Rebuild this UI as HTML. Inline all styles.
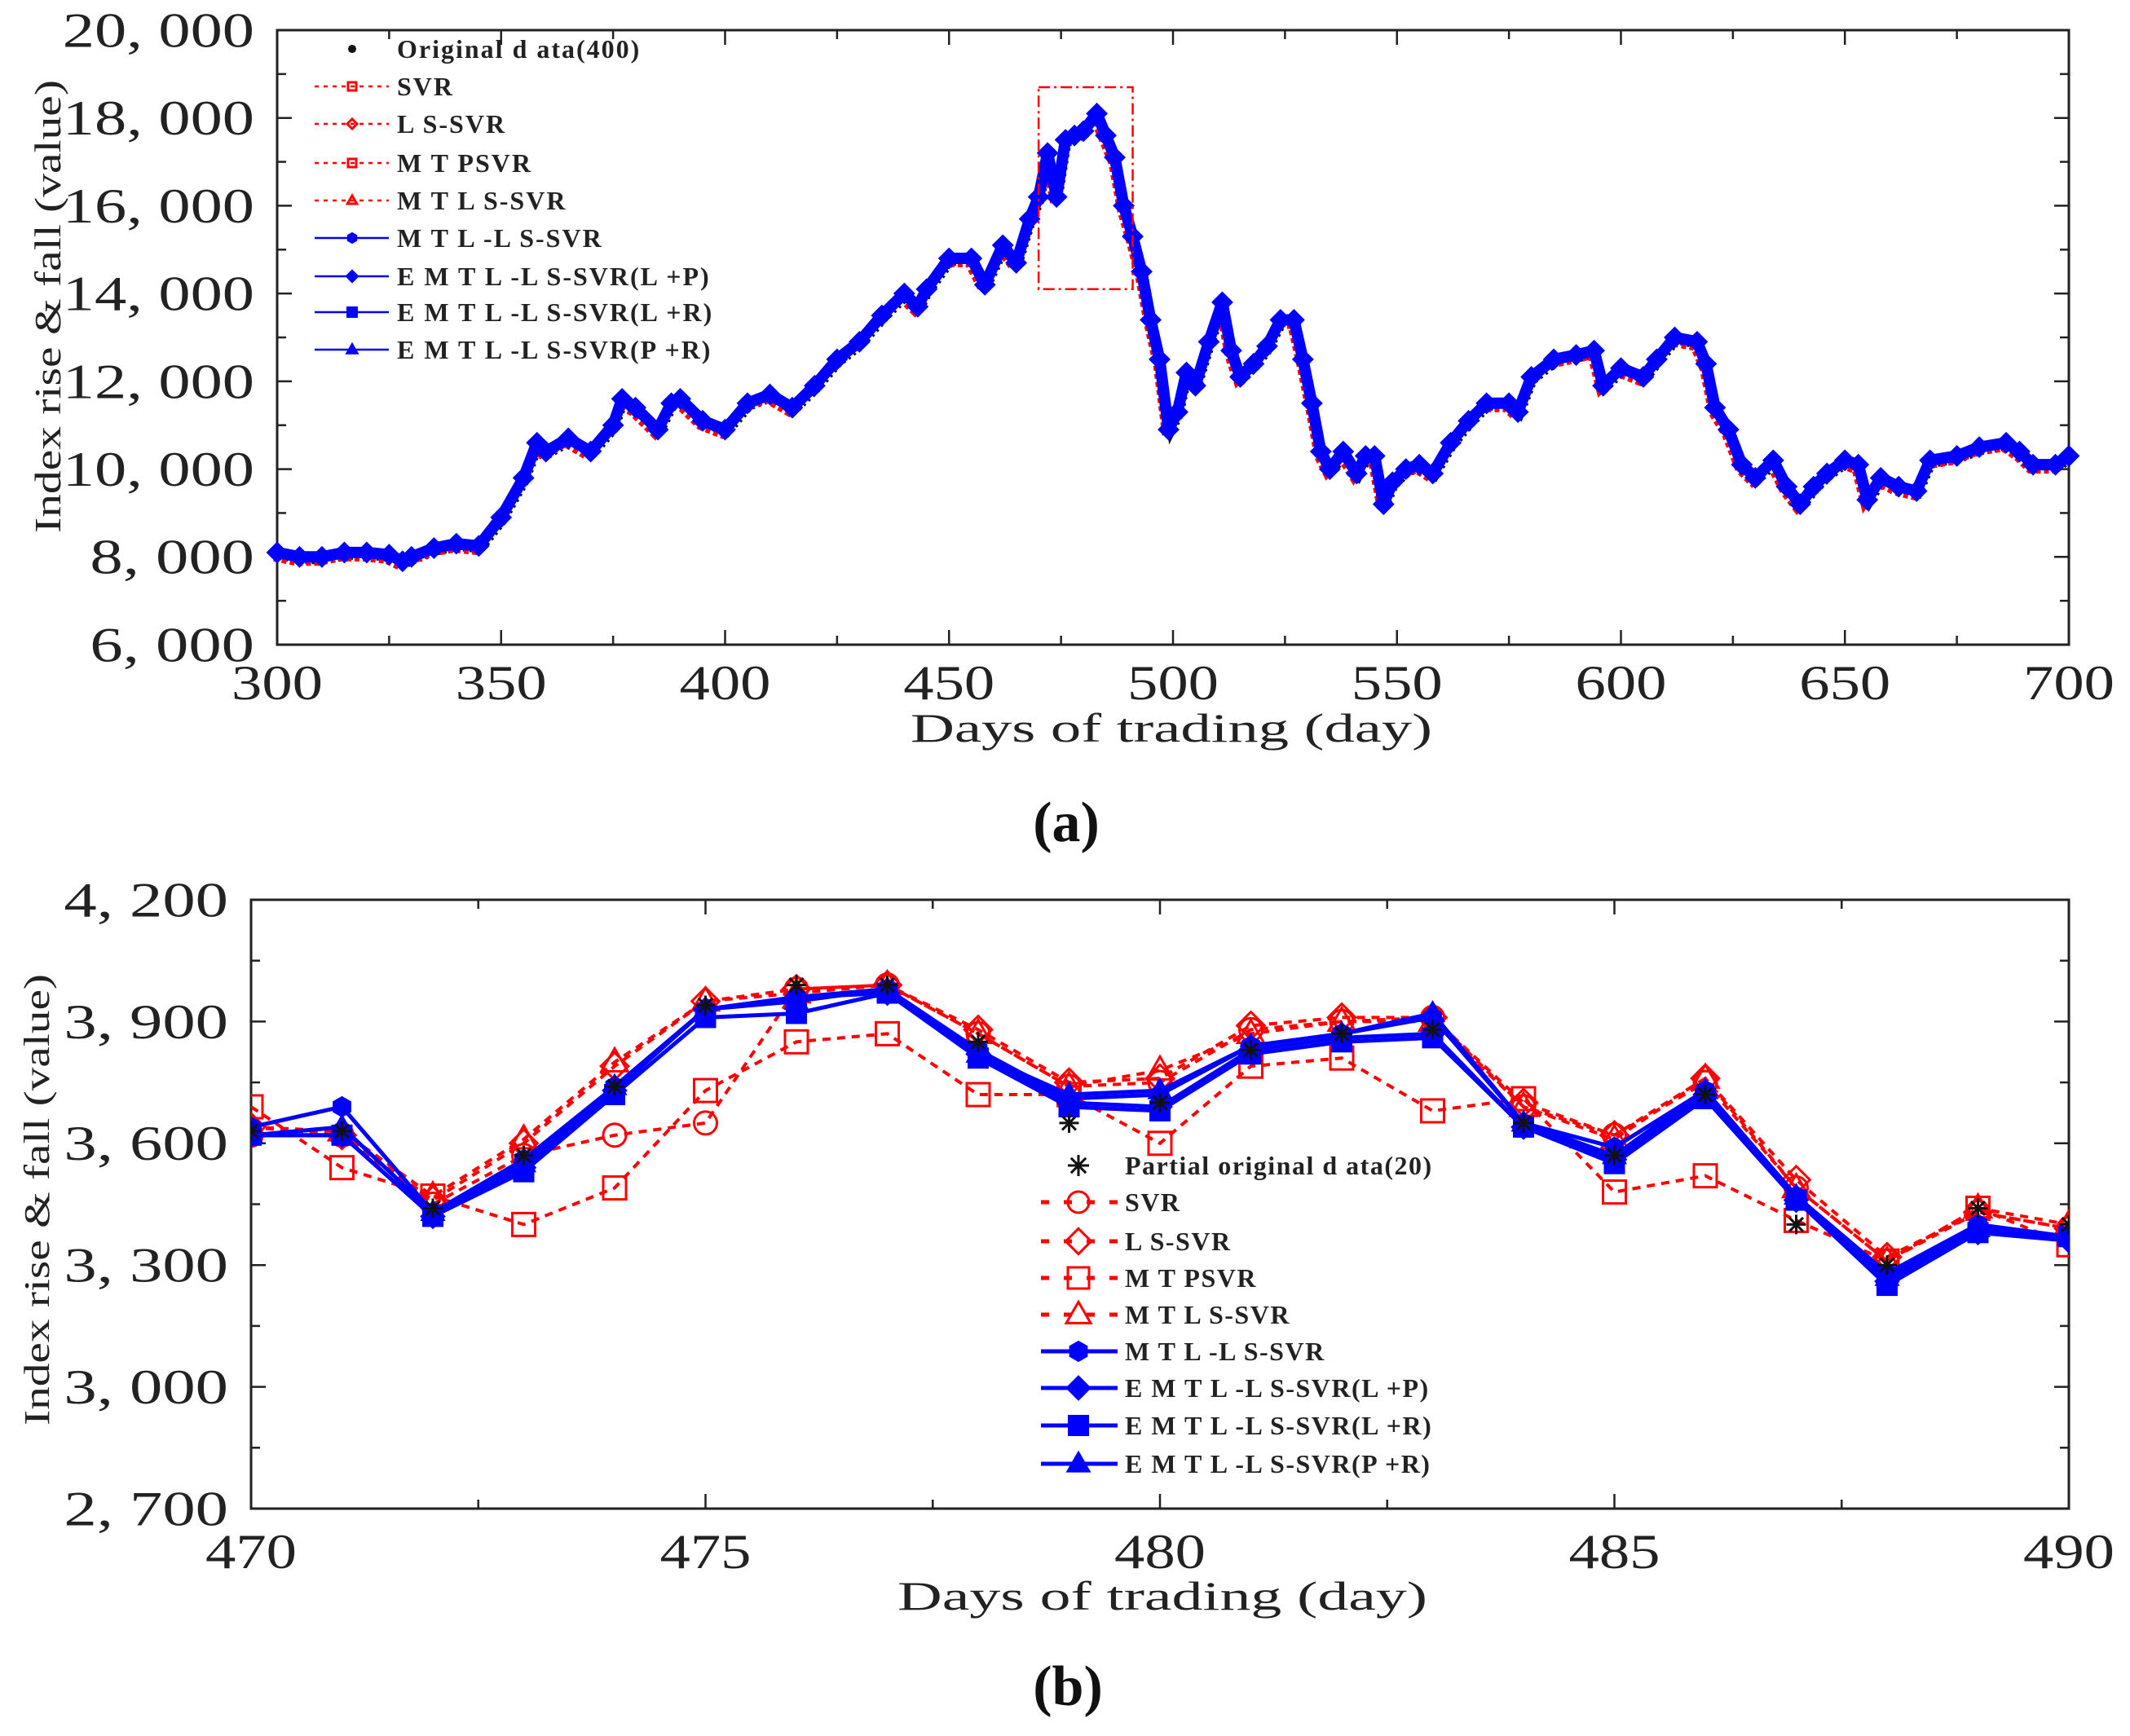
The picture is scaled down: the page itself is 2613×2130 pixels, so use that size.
<!DOCTYPE html>
<html><head><meta charset="utf-8"><style>
html,body{margin:0;padding:0;background:#fff;}
svg{display:block;}
text{font-family:"Liberation Serif",serif;}
</style></head><body>
<svg id="chart" xmlns="http://www.w3.org/2000/svg" width="2613" height="2130" viewBox="0 0 2613 2130"></svg>
<script>
// ---------- Panel (a) data ----------
const daysA = [300,305,310,315,320,325,328,330,335,340,345,350,355,358,360,365,370,375,377,380,385,388,390,395,400,405,410,415,420,425,430,435,440,443,445,450,455,458,462,465,468,470,472,474,476,478,480,483,485,487,489,491,493,495,497,499,501,503,505,508,511,513,515,518,521,524,527,529,531,533,535,538,541,543,545,547,549,552,555,558,562,566,570,575,577,580,585,590,594,596,600,605,608,612,617,619,621,624,627,630,634,637,640,643,646,650,653,655,658,662,666,669,675,680,686,689,692,697,700];
const valuesA = [8100,8000,8000,8100,8100,8050,7900,8000,8200,8300,8250,8900,9800,10600,10400,10700,10400,11000,11600,11400,10900,11500,11600,11100,10900,11500,11700,11400,11900,12500,12900,13500,14000,13700,14100,14800,14800,14200,15100,14700,15700,16200,17200,16200,17500,17600,17700,18100,17600,17100,16000,15300,14500,13400,12500,10900,11300,12200,11900,12900,13800,12700,12100,12400,12800,13400,13400,12500,11500,10400,10000,10400,9900,10300,10300,9200,9700,10000,10100,9900,10600,11100,11500,11500,11300,12100,12500,12600,12700,11900,12300,12100,12500,13000,12900,12400,11400,10900,10100,9800,10200,9600,9200,9600,9900,10200,10100,9300,9800,9600,9500,10200,10300,10500,10600,10400,10100,10100,10300];
const xTicksA = [300,350,400,450,500,550,600,650,700];
const yTicksA = [6000,8000,10000,12000,14000,16000,18000,20000];
const yTickLabelsA = ["6, 000","8, 000","10, 000","12, 000","14, 000","16, 000","18, 000","20, 000"];
const zoomBoxDays = [470,491];
const zoomBoxVals = [14100,18700];
const legendA = ["Original d ata(400)","SVR","L S-SVR","M T PSVR","M T L S-SVR","M T L -L S-SVR","E M T L -L S-SVR(L +P)","E M T L -L S-SVR(L +R)","E M T L -L S-SVR(P +R)"];

// ---------- Panel (b) data ----------
const daysB = [470,471,472,473,474,475,476,477,478,479,480,481,482,483,484,485,486,487,488,489,490];
const original = [3630,3630,3440,3570,3740,3940,3990,3990,3850,3650,3700,3830,3870,3880,3650,3570,3720,3400,3300,3440,3400];
const svr = [3620,3620,3450,3570,3620,3650,3980,3990,3870,3740,3750,3880,3900,3910,3690,3620,3750,3490,3310,3430,3390];
const lssvr = [3640,3620,3460,3600,3790,3950,3980,3990,3880,3750,3760,3890,3910,3910,3700,3620,3760,3510,3320,3430,3390];
const mtpsvr = [3690,3540,3470,3400,3490,3730,3850,3870,3720,3720,3600,3790,3810,3680,3710,3480,3520,3410,3310,3440,3350];
const mtlssvr = [3640,3630,3470,3610,3800,3950,3970,3990,3870,3740,3780,3870,3900,3900,3690,3610,3760,3490,3310,3440,3400];
const mtllssvr = [3640,3690,3430,3560,3740,3930,3960,3980,3830,3710,3720,3840,3870,3910,3650,3590,3730,3470,3280,3400,3370];
const emtlLP = [3620,3620,3420,3540,3730,3930,3960,3970,3820,3700,3690,3830,3860,3870,3640,3560,3720,3460,3260,3380,3360];
const emtlLR = [3620,3620,3420,3530,3720,3910,3920,3970,3810,3690,3680,3820,3850,3860,3640,3550,3710,3460,3250,3380,3370];
const emtlPR = [3620,3640,3430,3550,3740,3930,3950,3980,3820,3720,3730,3840,3870,3920,3650,3570,3730,3470,3270,3390,3370];
const xTicksB = [470,475,480,485,490];
const yTicksB = [2700,3000,3300,3600,3900,4200];
const yTickLabelsB = ["2, 700","3, 000","3, 300","3, 600","3, 900","4, 200"];
const legendB = ["Partial original d ata(20)","SVR","L S-SVR","M T PSVR","M T L S-SVR","M T L -L S-SVR","E M T L -L S-SVR(L +P)","E M T L -L S-SVR(L +R)","E M T L -L S-SVR(P +R)"];

const NS = "http://www.w3.org/2000/svg";
const svg = document.getElementById('chart');
function mk(tag, attrs, parent){
  const e = document.createElementNS(NS, tag);
  for (const k in attrs) e.setAttribute(k, attrs[k]);
  (parent||svg).appendChild(e);
  return e;
}
function txt(s, attrs, parent){ const t = mk('text', attrs, parent); t.textContent = s; return t; }

const A = {l:340, r:2538, t:37, b:791, x0:300, x1:700, y0:6000, y1:20000};
const B = {l:308, r:2538, t:1104, b:1851, x0:470, x1:490, y0:2700, y1:4200};
function sx(P, v){ return P.l + (v - P.x0) / (P.x1 - P.x0) * (P.r - P.l); }
function sy(P, v){ return P.b - (v - P.y0) / (P.y1 - P.y0) * (P.b - P.t); }

function marker(g, type, x, y, s, color, filled){
  const f = filled ? color : 'none';
  const common = {stroke: color, 'stroke-width': filled ? 2 : 3, fill: f};
  let e;
  if (type === 'circle') e = mk('circle', Object.assign({cx:x, cy:y, r:s}, common), g);
  else if (type === 'diamond') e = mk('polygon', Object.assign({points:`${x},${y-s*1.2} ${x+s*1.2},${y} ${x},${y+s*1.2} ${x-s*1.2},${y}`}, common), g);
  else if (type === 'square') e = mk('rect', Object.assign({x:x-s, y:y-s, width:2*s, height:2*s}, common), g);
  else if (type === 'triangle') e = mk('polygon', Object.assign({points:`${x},${y-s*1.2} ${x+s*1.15},${y+s*0.8} ${x-s*1.15},${y+s*0.8}`}, common), g);
  else if (type === 'hex') e = mk('polygon', Object.assign({points:[0,1,2,3,4,5].map(i=>`${x+s*Math.cos(i*Math.PI/3+Math.PI/6)},${y+s*Math.sin(i*Math.PI/3+Math.PI/6)}`).join(' ')}, common), g);
  else if (type === 'star') {
    e = mk('g', {}, g);
    for (let i = 0; i < 4; i++) {
      const a = i * Math.PI / 4;
      mk('line', {x1:x - s*Math.cos(a), y1:y - s*Math.sin(a), x2:x + s*Math.cos(a), y2:y + s*Math.sin(a), stroke:color, 'stroke-width':3}, e);
    }
  }
  return e;
}

function drawAxes(P, xTicks, xMinorStep, yTicks, yLabels, yMinorStep, name, xLabelY, yLabelSize, xLabelSize){
  const g = mk('g', {});
  
  
  const frame = mk('rect', {x:P.l, y:P.t, width:P.r-P.l, height:P.b-P.t, fill:'none', stroke:'#222', 'stroke-width':3}, g);
  
  
  for (let v = P.x0; v <= P.x1 + 1e-9; v += xMinorStep) {
    const x = sx(P, v);
    const major = xTicks.some(t => Math.abs(t - v) < 1e-6);
    const len = major ? 18 : 11;
    mk('line', {x1:x, y1:P.b, x2:x, y2:P.b-len, stroke:'#222', 'stroke-width':2.5}, g);
    mk('line', {x1:x, y1:P.t, x2:x, y2:P.t+len, stroke:'#222', 'stroke-width':2.5}, g);
  }
  for (let v = P.y0; v <= P.y1 + 1e-9; v += yMinorStep) {
    const y = sy(P, v);
    const major = yTicks.some(t => Math.abs(t - v) < 1e-6);
    const len = major ? 18 : 11;
    mk('line', {x1:P.l, y1:y, x2:P.l+len, y2:y, stroke:'#222', 'stroke-width':2.5}, g);
    mk('line', {x1:P.r, y1:y, x2:P.r-len, y2:y, stroke:'#222', 'stroke-width':2.5}, g);
  }
  xTicks.forEach(v => {
    const t = txt(String(v), {x:sx(P, v), y:xLabelY, 'font-size':xLabelSize, 'text-anchor':'middle', fill:'#222', textLength:112, lengthAdjust:'spacingAndGlyphs'}, g);
    
    
  });
  yTicks.forEach((v, i) => {
    const lab = yLabels[i];
    const t = txt(lab, {x:P.l - 28, y:sy(P, v) + yLabelSize*0.34, 'font-size':yLabelSize, 'text-anchor':'end', fill:'#222', textLength: lab.length * (yLabelSize*0.56), lengthAdjust:'spacingAndGlyphs'}, g);
    
    
  });
}

// ================= Panel (a) =================
drawAxes(A, xTicksA, 25, yTicksA, yTickLabelsA, 1000, 'panel-a', 858, 60, 60);
(function(){
  const g = mk('g', {});
  
  
  const pts = daysA.map((d, i) => [sx(A, d), sy(A, valuesA[i])]);
  const ptsStr = pts.map(p => p.join(',')).join(' ');
  const orig = mk('polyline', {points: pts.map(p => `${p[0]+3},${p[1]+5}`).join(' '), fill:'none', stroke:'#111', 'stroke-width':8, 'stroke-dasharray':'3,5'}, g);
  
  
  const red = mk('polyline', {points: pts.map(p => `${p[0]-4},${p[1]+7}`).join(' '), fill:'none', stroke:'#f00', 'stroke-width':8, 'stroke-dasharray':'6,4'}, g);
  
  
  const blue = mk('polyline', {points: ptsStr, fill:'none', stroke:'#0000ff', 'stroke-width':14, 'stroke-linejoin':'round'}, g);
  
  
  pts.forEach(p => {
    const m = marker(g, 'diamond', p[0], p[1], 10, '#0000ff', true);
    
    
  });
  const box = mk('rect', {x:sx(A, zoomBoxDays[0]), y:sy(A, zoomBoxVals[1]), width:sx(A, zoomBoxDays[1]) - sx(A, zoomBoxDays[0]), height:sy(A, zoomBoxVals[0]) - sy(A, zoomBoxVals[1]), fill:'none', stroke:'#f00', 'stroke-width':2.5, 'stroke-dasharray':'14,5,3,5'}, g);
  
  

  const lg = mk('g', {});
  
  
  const rowsY = [60,106,152,200,246,292,339,383,429];
  const types = ['star','square','diamond','square','triangle','hex','diamond','square','triangle'];
  legendA.forEach((lab, i) => {
    const y = rowsY[i];
    const e = mk('g', {}, lg);
    
    
    if (i === 0) { marker(e, 'star', 432, y, 5, '#111', false); }
    else if (i <= 4) {
      mk('line', {x1:386, y1:y, x2:477, y2:y, stroke:'#f00', 'stroke-width':2.5, 'stroke-dasharray':'5,6'}, e);
      marker(e, types[i], 432, y, 5, '#f00', false);
    } else {
      mk('line', {x1:386, y1:y, x2:477, y2:y, stroke:'#0000ff', 'stroke-width':2.5}, e);
      marker(e, types[i], 432, y, 6, '#0000ff', true);
    }
    txt(lab, {x:487, y:y+11, 'font-size':32, 'font-weight':'bold', fill:'#222', 'letter-spacing':2}, e);
  });
})();
let t;
t = txt('Days of trading (day)', {x:1437, y:910, 'font-size':50, 'text-anchor':'middle', fill:'#222', textLength:640, lengthAdjust:'spacingAndGlyphs'});


t = txt('Index rise & fall (value)', {x:0, y:0, 'font-size':46, 'text-anchor':'middle', fill:'#222', transform:'translate(74,376) rotate(-90)', textLength:556, lengthAdjust:'spacingAndGlyphs'});


t = txt('(a)', {x:1308, y:1032, 'font-size':70, 'font-weight':'bold', 'text-anchor':'middle', fill:'#111'});



// ================= Panel (b) =================
drawAxes(B, xTicksB, 2.5, yTicksB, yTickLabelsB, 150, 'panel-b', 1924, 60, 60);
(function(){
  const series = [
    {name:'svr-series', data:svr, color:'#f00', marker:'circle', dashed:true},
    {name:'ls-svr-series', data:lssvr, color:'#f00', marker:'diamond', dashed:true},
    {name:'mtpsvr-series', data:mtpsvr, color:'#f00', marker:'square', dashed:true},
    {name:'mtls-svr-series', data:mtlssvr, color:'#f00', marker:'triangle', dashed:true},
    {name:'mtl-ls-svr-series', data:mtllssvr, color:'#0000ff', marker:'hex', dashed:false},
    {name:'emtl-lp-series', data:emtlLP, color:'#0000ff', marker:'diamond', dashed:false},
    {name:'emtl-lr-series', data:emtlLR, color:'#0000ff', marker:'square', dashed:false},
    {name:'emtl-pr-series', data:emtlPR, color:'#0000ff', marker:'triangle', dashed:false},
  ];
  const clip = mk('clipPath', {id:'clipB'});
  mk('rect', {x:B.l, y:B.t, width:B.r-B.l, height:B.b-B.t}, clip);
  const gAll = mk('g', {'clip-path':'url(#clipB)'});
  
  
  series.forEach(s => {
    const g = mk('g', {}, gAll);
    
    
    const pts = daysB.map((d, i) => [sx(B, d), sy(B, s.data[i])]);
    mk('polyline', {points: pts.map(p => p.join(',')).join(' '), fill:'none', stroke:s.color, 'stroke-width': s.dashed ? 4 : 5, 'stroke-dasharray': s.dashed ? '10,8' : 'none'}, g);
    pts.forEach(p => {
      const m = marker(g, s.marker, p[0], p[1], s.dashed ? 14 : 12, s.color, !s.dashed);
      
      
    });
  });
  const go = mk('g', {}, gAll);
  
  
  daysB.forEach((d, i) => {
    const m = marker(go, 'star', sx(B, d), sy(B, original[i]), 12, '#111', false);
    
    
  });

  const lg = mk('g', {});
  
  
  const rowsY = [1430,1475,1523,1568,1613,1658,1703,1749,1796];
  const types = ['star','circle','diamond','square','triangle','hex','diamond','square','triangle'];
  legendB.forEach((lab, i) => {
    const y = rowsY[i];
    const e = mk('g', {}, lg);
    
    
    if (i === 0) marker(e, 'star', 1323, y, 13, '#111', false);
    else if (i <= 4) {
      mk('line', {x1:1277, y1:y, x2:1371, y2:y, stroke:'#f00', 'stroke-width':5, 'stroke-dasharray':'10,18'}, e);
      marker(e, types[i], 1323, y, 13, '#f00', false);
    } else {
      mk('line', {x1:1277, y1:y, x2:1371, y2:y, stroke:'#0000ff', 'stroke-width':5}, e);
      marker(e, types[i], 1323, y, 12, '#0000ff', true);
    }
    txt(lab, {x:1380, y:y+11, 'font-size':32, 'font-weight':'bold', fill:'#222', 'letter-spacing':1.5}, e);
  });
})();
t = txt('Days of trading (day)', {x:1426, y:1975, 'font-size':50, 'text-anchor':'middle', fill:'#222', textLength:650, lengthAdjust:'spacingAndGlyphs'});


t = txt('Index rise & fall (value)', {x:0, y:0, 'font-size':44, 'text-anchor':'middle', fill:'#222', transform:'translate(60,1472) rotate(-90)', textLength:554, lengthAdjust:'spacingAndGlyphs'});


t = txt('(b)', {x:1310, y:2092, 'font-size':70, 'font-weight':'bold', 'text-anchor':'middle', fill:'#111'});


</script>
</body></html>
